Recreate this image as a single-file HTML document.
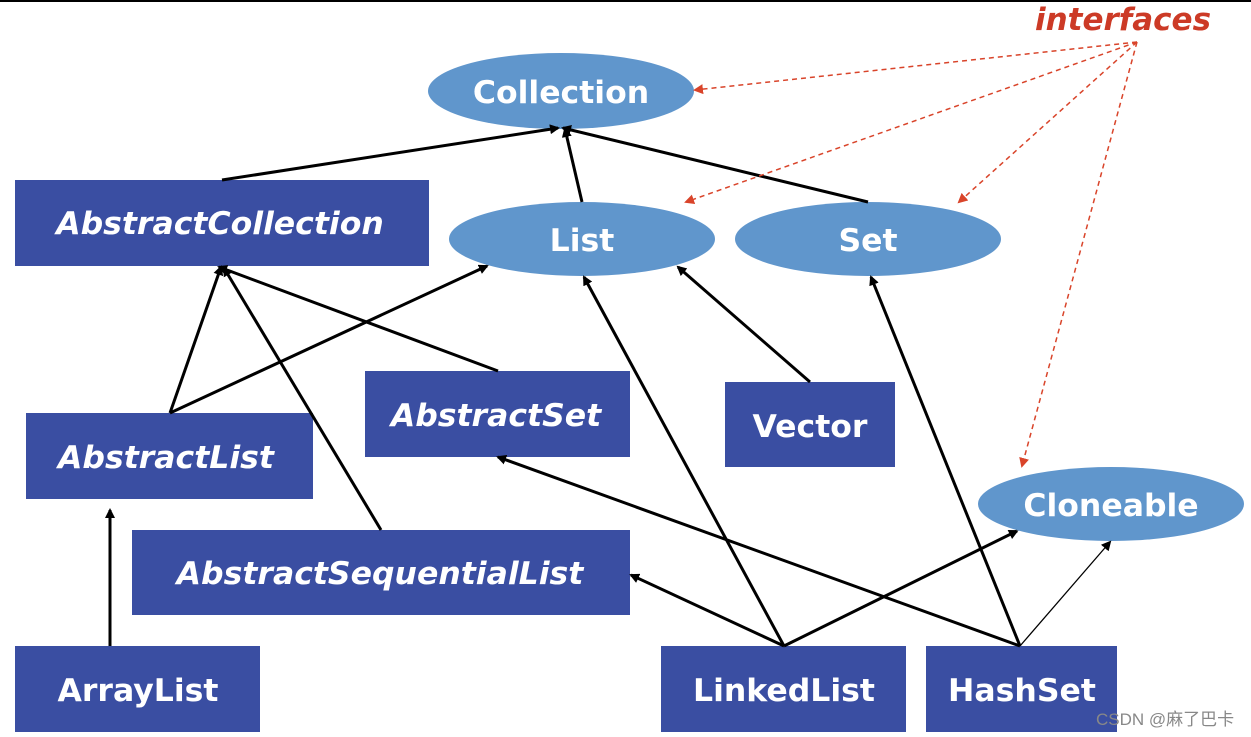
<!DOCTYPE html>
<html><head><meta charset="utf-8"><style>
html,body{margin:0;padding:0;background:#fff;width:1251px;height:737px;overflow:hidden}
svg text{font-family:"DejaVu Sans","Liberation Sans",sans-serif;font-weight:bold;fill:#fff}
</style></head><body>
<svg width="1251" height="737" viewBox="0 0 1251 737" xmlns="http://www.w3.org/2000/svg">
<defs>
<marker id="a" markerWidth="10" markerHeight="10" refX="8" refY="5" orient="auto" markerUnits="userSpaceOnUse"><path d="M0,0 L10,5 L0,10 z" fill="#000"/></marker>
<marker id="r" markerWidth="10" markerHeight="10" refX="8" refY="5" orient="auto" markerUnits="userSpaceOnUse"><path d="M0,0 L10,5 L0,10 z" fill="#d9442a"/></marker>
</defs>
<rect x="0" y="0" width="1251" height="2" fill="#000"/>
<g fill="#3a4ea2">
<rect x="15" y="180" width="414" height="86"/>
<rect x="26" y="413" width="287" height="86"/>
<rect x="365" y="371" width="265" height="86"/>
<rect x="725" y="382" width="170" height="85"/>
<rect x="132" y="530" width="498" height="85"/>
<rect x="15" y="646" width="245" height="86"/>
<rect x="661" y="646" width="245" height="86"/>
<rect x="926" y="646" width="191" height="86"/>
</g>
<g fill="#6096cc">
<ellipse cx="561" cy="91" rx="133" ry="38"/>
<ellipse cx="582" cy="239" rx="133" ry="37"/>
<ellipse cx="868" cy="239" rx="133" ry="37"/>
<ellipse cx="1111" cy="504" rx="133" ry="37"/>
</g>
<g stroke="#000" stroke-width="3" fill="none" marker-end="url(#a)">
<line x1="222" y1="180" x2="558" y2="128"/>
<line x1="582" y1="202" x2="565" y2="129"/>
<line x1="868" y1="202" x2="563" y2="128"/>
<line x1="170" y1="413" x2="221" y2="267"/>
<line x1="170" y1="413" x2="487" y2="266"/>
<line x1="498" y1="371" x2="219" y2="267"/>
<line x1="381" y1="530" x2="224" y2="268"/>
<line x1="110" y1="646" x2="110" y2="510"/>
<line x1="810" y1="382" x2="678" y2="267"/>
<line x1="784" y1="646" x2="584" y2="277"/>
<line x1="784" y1="646" x2="631" y2="575"/>
<line x1="784" y1="646" x2="1017" y2="531"/>
<line x1="1020" y1="646" x2="498" y2="457"/>
<line x1="1020" y1="646" x2="871" y2="277"/>
</g>
<line x1="1020" y1="646" x2="1110" y2="542" stroke="#000" stroke-width="1.3" marker-end="url(#a)"/>
<g stroke="#d9442a" stroke-width="1.5" stroke-dasharray="5,4" fill="none" marker-end="url(#r)">
<line x1="1137" y1="42" x2="695" y2="90"/>
<line x1="1137" y1="42" x2="686" y2="202"/>
<line x1="1137" y1="42" x2="959" y2="202"/>
<line x1="1137" y1="42" x2="1022" y2="466"/>
</g>
<text x="1123" y="30" text-anchor="middle" font-size="31" font-style="italic" style="fill:#cc3a26">interfaces</text>
<g font-size="31.5" text-anchor="middle">
<text x="561" y="103">Collection</text>
<text x="582" y="251">List</text>
<text x="868" y="251">Set</text>
<text x="1111" y="516">Cloneable</text>
<text x="220" y="234" font-style="italic">AbstractCollection</text>
<text x="166" y="468" font-style="italic">AbstractList</text>
<text x="496" y="426" font-style="italic">AbstractSet</text>
<text x="810" y="437">Vector</text>
<text x="380" y="584" font-style="italic">AbstractSequentialList</text>
<text x="138" y="701">ArrayList</text>
<text x="784" y="701">LinkedList</text>
<text x="1022" y="701">HashSet</text>
</g>
<text x="1096" y="725" font-size="17" style="fill:#888;font-weight:normal;font-family:'Liberation Sans','Noto Sans CJK SC',sans-serif">CSDN @麻了巴卡</text>
</svg>
</body></html>
